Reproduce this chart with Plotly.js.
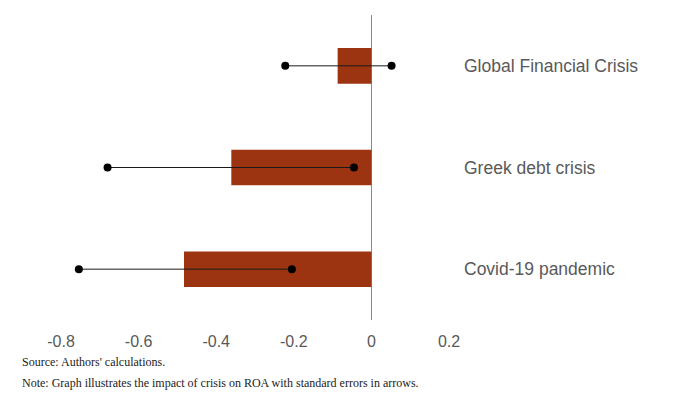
<!DOCTYPE html>
<html>
<head>
<meta charset="utf-8">
<script src="https://cdn.plot.ly/plotly-3.0.1.min.js"></script>
<style>
  html, body { margin: 0; padding: 0; background: #fff; }
  #chart { width: 693px; height: 411px; }
</style>
</head>
<body>
<div id="chart"></div>
<script>
// data
const crises = ["Global Financial Crisis", "Greek debt crisis", "Covid-19 pandemic"];
const roaImpact = [-0.087, -0.361, -0.483];
const lowerEnd = [-0.222, -0.680, -0.754];
const upperEnd = [0.052, -0.045, -0.205];
const xTicks = [-0.8, -0.6, -0.4, -0.2, 0, 0.2];

const bars = {
  type: "bar",
  orientation: "h",
  x: roaImpact,
  y: crises,
  width: 0.35,
  marker: { color: "#9C3412" },
  showlegend: false,
  hoverinfo: "x+y"
};

// one little line with a dot at each end per crisis
const whiskers = crises.map((c, i) => ({
  type: "scatter",
  mode: "lines+markers",
  x: [lowerEnd[i], upperEnd[i]],
  y: [c, c],
  line: { color: "#1a1a1a", width: 1 },
  marker: { color: "#000", size: 8 },
  showlegend: false
}));

const layout = {
  width: 693,
  height: 411,
  margin: { l: 61, r: 244, t: 15, b: 91 },
  paper_bgcolor: "#fff",
  plot_bgcolor: "#fff",
  font: { family: "Liberation Sans, Arial, sans-serif", size: 16, color: "#595959" },
  xaxis: {
    range: [-0.8, 0.2],
    tickvals: xTicks,
    ticktext: xTicks.map(v => String(v)),
    showgrid: false,
    showline: false,
    ticks: "",
    zeroline: true,
    zerolinecolor: "#8a8a8a",
    zerolinewidth: 1,
    ticklabelstandoff: 10,
    tickfont: { family: "Liberation Sans Narrow, Arial Narrow, Liberation Sans, sans-serif", size: 16, color: "#595959" }
  },
  yaxis: {
    type: "category",
    autorange: "reversed",
    side: "right",
    showgrid: false,
    showline: false,
    ticks: "",
    zeroline: false,
    ticklabelstandoff: 14,
    tickfont: { size: 17.5, color: "#595959" }
  },
  annotations: [
    {
      text: "Source: Authors' calculations.",
      xref: "paper", yref: "paper",
      x: -0.106, y: -0.137,
      xanchor: "left", yanchor: "middle",
      showarrow: false,
      font: { family: "Liberation Serif, serif", size: 12, color: "#222" }
    },
    {
      text: "Note: Graph illustrates the impact of crisis on ROA with standard errors in arrows.",
      xref: "paper", yref: "paper",
      x: -0.106, y: -0.205,
      xanchor: "left", yanchor: "middle",
      showarrow: false,
      font: { family: "Liberation Serif, serif", size: 12, color: "#222" }
    }
  ]
};

Plotly.newPlot("chart", [bars].concat(whiskers), layout, { displayModeBar: false });
</script>
</body>
</html>
